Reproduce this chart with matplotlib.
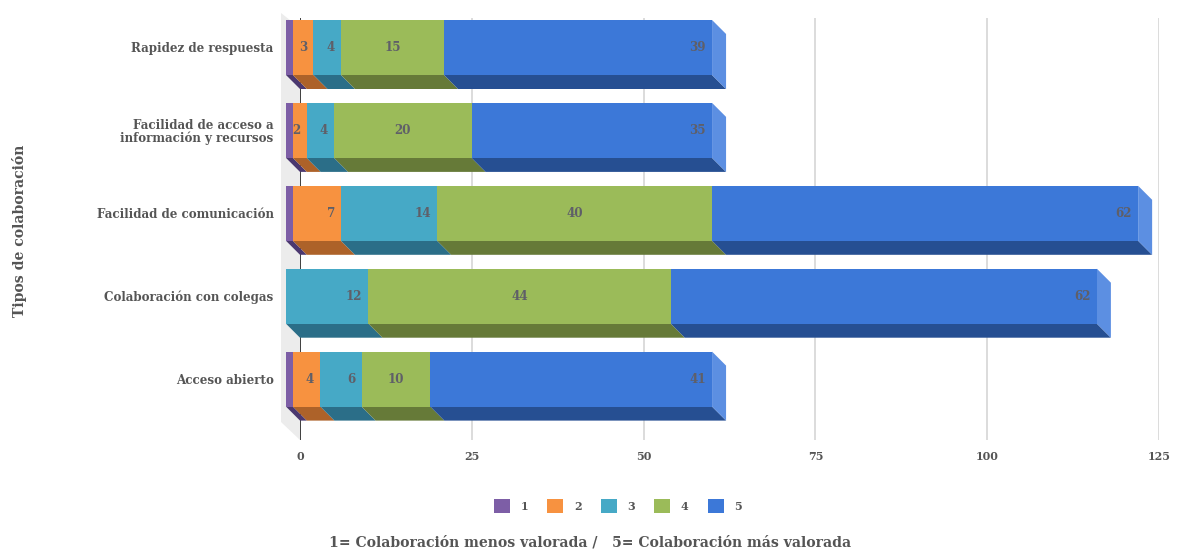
import matplotlib
matplotlib.use("Agg")
import matplotlib.pyplot as plt
from matplotlib.patches import Polygon, Patch

plt.rcParams['font.family'] = ['DejaVu Serif']

categories = ["Rapidez de respuesta", "Facilidad de acceso a\ninformación y recursos",
              "Facilidad de comunicación", "Colaboración con colegas", "Acceso abierto"]
series_names = ["1", "2", "3", "4", "5"]
s1 = [1, 1, 1, 0, 1]
s2 = [3, 2, 7, 0, 4]
s3 = [4, 4, 14, 12, 6]
s4 = [15, 20, 40, 44, 10]
s5 = [39, 35, 62, 62, 41]
series = [s1, s2, s3, s4, s5]
x_ticks = [0, 25, 50, 75, 100, 125]

front = ["#7d5ea6", "#f79240", "#46a9c6", "#9bbb59", "#3c78d8"]
floor = ["#4b3870", "#ad6229", "#2b6e88", "#667a38", "#264f92"]
side_blue = "#5c8fe2"
text_col = "#555555"
label_col = "#5f5f68"

W, H = 1177, 554
fig = plt.figure(figsize=(W / 100, H / 100), dpi=100, facecolor="white")

# Axes frame in pixels: value 0 on the back wall, 125 at the far gridline.
left, right, top, bottom = 300, 1159, 18, 440
ax = fig.add_axes([left / W, 1 - bottom / H, (right - left) / W, (bottom - top) / H])
ax.set_xlim(0, 125)
row_step = 82.9
row0 = 47.5
ax.set_ylim((bottom - row0) / row_step, (top - row0) / row_step)
px_x = 125 / (right - left)
px_y = 1 / row_step
depth = 14
dx, dy = depth * px_x, depth * px_y
half = 27.5 * px_y

for s in ax.spines.values():
    s.set_visible(False)
ax.set_axisbelow(True)
ax.grid(axis="x", color="#d9d9d9", lw=1.3)
ax.axvline(0, color="#333333", lw=1.3, zorder=1)
ax.tick_params(axis="both", length=0)
ax.set_xticks(x_ticks)
ax.set_xticklabels([str(t) for t in x_ticks], fontsize=8, fontweight="bold", color=text_col)
ax.tick_params(axis="x", pad=7.7)
ax.set_yticks(range(len(categories)))
ax.set_yticklabels(categories, fontsize=8.6, fontweight="bold", color=text_col, linespacing=1.0)
ax.tick_params(axis="y", pad=19.0)

# Side wall of the 3D frame, running from the back plane towards the viewer.
wall_off = 19
y_top, y_bot = ax.get_ylim()[1], ax.get_ylim()[0]
ax.add_patch(Polygon([(-wall_off * px_x, y_top - 5 * px_y), (0, y_top + 10 * px_y),
                      (0, y_bot), (-wall_off * px_x, y_bot - 18 * px_y)],
                     closed=True, fc="#ececec", ec="none", clip_on=False, zorder=0.5))

# Stacked bars drawn on the front plane, with a floor face below and an end cap.
for i in range(len(categories)):
    start = -dx
    for j, values in enumerate(series):
        v = values[i]
        if v == 0:
            continue
        end = start + v
        ax.add_patch(Polygon([(start, i + half), (end, i + half), (end + dx, i + half + dy),
                              (start + dx, i + half + dy)], closed=True, fc=floor[j], ec="none",
                             clip_on=False, zorder=3))
        ax.add_patch(Polygon([(start, i - half), (end, i - half), (end, i + half), (start, i + half)],
                             closed=True, fc=front[j], ec="none", clip_on=False, zorder=4))
        if j > 0:
            if j == 3:
                ax.text((start + end) / 2, i, str(v), ha="center", va="center", fontsize=8.6,
                        fontweight="bold", color=label_col, zorder=6)
            else:
                ax.text(end - 6 * px_x, i, str(v), ha="right", va="center", fontsize=8.6,
                        fontweight="bold", color=label_col, zorder=6)
        start = end
    ax.add_patch(Polygon([(start, i - half), (start + dx, i - half + dy), (start + dx, i + half + dy),
                          (start, i + half)], closed=True, fc=side_blue, ec="none",
                         clip_on=False, zorder=3.5))

fig.text(20 / W, 1 - 231 / H, "Tipos de colaboración", rotation=90, ha="center", va="center",
         fontsize=10.1, fontweight="bold", color=text_col)

handles = [Patch(fc=c, ec="none", label=n) for c, n in zip(front, series_names)]
fig.legend(handles=handles, ncol=5, loc="center", bbox_to_anchor=(618 / W, 1 - 506 / H), frameon=False,
           handlelength=1.44, handleheight=1.44, handletextpad=0.95, columnspacing=1.73,
           prop={"size": 8, "weight": "bold"}, labelcolor=text_col)

fig.text(590 / W, 1 - 543 / H, "1= Colaboración menos valorada /   5= Colaboración más valorada",
         ha="center", va="center", fontsize=10.05, fontweight="bold", color=text_col)

fig.savefig("out.png", dpi=100, facecolor="white")
